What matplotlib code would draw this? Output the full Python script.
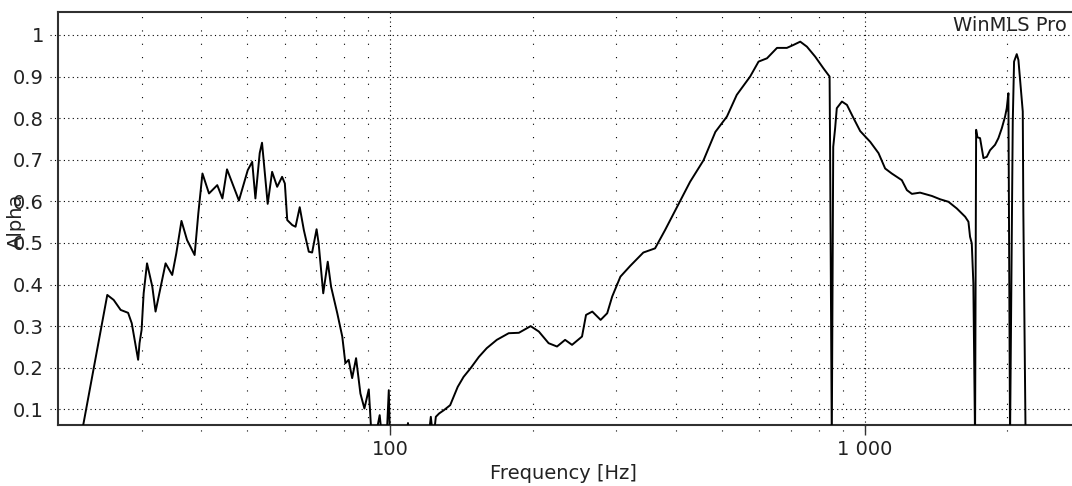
import matplotlib
matplotlib.use("Agg")
import matplotlib.pyplot as plt
from matplotlib.ticker import FixedLocator, FixedFormatter, NullFormatter
from matplotlib.transforms import blended_transform_factory

# absorption coefficient vs frequency
freq_hz = [
    22.4, 22.6, 25.4, 26.2, 27.1, 28.1, 28.6, 29.5, 29.7, 30.0,
    30.3, 30.8, 31.6, 32.1, 33.2, 33.7, 34.8, 35.5, 36.4, 37.4,
    38.8, 39.5, 40.3, 41.6, 43.3, 44.4, 45.4, 48.1, 50.2, 51.3,
    52.1, 53.2, 53.8, 54.5, 55.3, 56.5, 57.9, 59.3, 60.1, 60.8,
    62.3, 63.3, 64.6, 65.9, 67.5, 68.6, 70.1, 70.8, 72.4, 74.0,
    75.2, 77.5, 79.4, 80.6, 81.9, 83.3, 84.9, 86.7, 88.4, 90.3,
    91.3, 93.7, 95.2, 96.0, 98.6, 99.5, 100.0, 108.7, 109.2, 109.6,
    121, 122, 123, 124, 125, 127, 130, 134, 139, 143,
    148, 154, 160, 168, 178, 187, 198, 206, 216, 225,
    234, 242, 254, 259, 267, 278, 287, 294, 306, 321,
    342, 362, 380, 403, 429, 458, 485, 513, 538, 574,
    598, 623, 654, 686, 708, 732, 756, 787, 819, 844,
    846, 853, 859, 867, 874, 896, 918, 948, 979, 1028,
    1070, 1105, 1141, 1198, 1228, 1258, 1309, 1386, 1443, 1502,
    1564, 1629, 1655, 1668, 1682, 1695, 1709, 1718, 1729, 1751,
    1780, 1809, 1838, 1883, 1914, 1946, 1977, 1993, 2009, 2025,
    2052, 2065, 2092, 2109, 2133, 2154, 2160, 2184, 2736,
]
alpha = [
    0.040, 0.062, 0.375, 0.363, 0.339, 0.332, 0.307, 0.219, 0.259, 0.291,
    0.379, 0.451, 0.395, 0.335, 0.415, 0.451, 0.423, 0.475, 0.553, 0.507,
    0.471, 0.571, 0.667, 0.619, 0.639, 0.607, 0.677, 0.602, 0.675, 0.695,
    0.607, 0.716, 0.741, 0.671, 0.594, 0.671, 0.635, 0.659, 0.643, 0.555,
    0.543, 0.539, 0.586, 0.531, 0.479, 0.477, 0.533, 0.499, 0.379, 0.455,
    0.395, 0.331, 0.275, 0.211, 0.219, 0.175, 0.223, 0.138, 0.102, 0.148,
    0.055, 0.045, 0.086, 0.045, 0.045, 0.146, 0.045, 0.045, 0.067, 0.045,
    0.045, 0.082, 0.045, 0.045, 0.082, 0.090, 0.098, 0.110, 0.154, 0.178,
    0.199, 0.226, 0.247, 0.267, 0.283, 0.284, 0.300, 0.287, 0.259, 0.251,
    0.267, 0.255, 0.275, 0.327, 0.335, 0.315, 0.331, 0.371, 0.419, 0.445,
    0.477, 0.487, 0.531, 0.587, 0.647, 0.699, 0.767, 0.804, 0.856, 0.900,
    0.936, 0.944, 0.969, 0.969, 0.976, 0.984, 0.972, 0.948, 0.920, 0.900,
    0.731, 0.026, 0.731, 0.776, 0.824, 0.840, 0.832, 0.800, 0.769, 0.743,
    0.716, 0.679, 0.667, 0.651, 0.627, 0.618, 0.621, 0.613, 0.605, 0.599,
    0.583, 0.563, 0.551, 0.515, 0.499, 0.403, 0.026, 0.772, 0.754, 0.752,
    0.704, 0.707, 0.723, 0.736, 0.752, 0.776, 0.804, 0.824, 0.860, 0.026,
    0.792, 0.936, 0.954, 0.940, 0.872, 0.816, 0.575, 0.026, 0.026,
]

x_major = [100, 1000]
x_major_labels = ["100", "1 000"]
x_minor = [30, 40, 50, 60, 70, 80, 90, 200, 300, 400, 500, 600, 700, 800, 900, 2000]
y_ticks = [0.1, 0.2, 0.3, 0.4, 0.5, 0.6, 0.7, 0.8, 0.9, 1.0]
y_labels = ["0.1", "0.2", "0.3", "0.4", "0.5", "0.6", "0.7", "0.8", "0.9", "1"]

plt.rcParams["font.family"] = "DejaVu Sans"
txt = "#222222"

fig = plt.figure(figsize=(10.72, 4.86), dpi=100)
ax = fig.add_axes([58 / 1072, 61 / 486, 1 - 58 / 1072, 413 / 486])
ax.plot(freq_hz, alpha, color="black", lw=1.4, zorder=3)
ax.set_xscale("log")
ax.set_xlim(20, 2735)
ax.set_ylim(0.0623, 1.0553)

ax.xaxis.set_major_locator(FixedLocator(x_major))
ax.xaxis.set_major_formatter(FixedFormatter(x_major_labels))
ax.xaxis.set_minor_locator(FixedLocator(x_minor))
ax.xaxis.set_minor_formatter(NullFormatter())
ax.yaxis.set_major_locator(FixedLocator(y_ticks))
ax.yaxis.set_major_formatter(FixedFormatter(y_labels))
ax.tick_params(which="both", labelsize=14, labelcolor=txt)
ax.tick_params(axis="x", which="major", length=7, width=1.0, color="#333333", pad=4)
ax.tick_params(axis="x", which="minor", length=0)
ax.tick_params(axis="y", length=0, pad=10)

# dotted grid that runs a little past the frame, like tick marks
hx = blended_transform_factory(ax.transAxes, ax.transData)
vx = blended_transform_factory(ax.transData, ax.transAxes)
for v in y_ticks:
    ax.plot([-8 / 1014, 1], [v, v], transform=hx, color="black", lw=0.8,
            ls=(0, (1, 3)), clip_on=False, zorder=1)
for f in x_major:
    ax.plot([f, f], [-6 / 413, 1], transform=vx, color="black", lw=0.8,
            ls=(0, (1, 3)), clip_on=False, zorder=1)
for f in x_minor:
    ax.plot([f, f], [-6 / 413, 1], transform=vx, color="black", lw=0.8,
            ls=(0, (1, 11)), clip_on=False, zorder=1)

for side in ("left", "top", "bottom"):
    ax.spines[side].set_linewidth(1.5)
    ax.spines[side].set_color("#303030")
ax.spines["right"].set_visible(False)

ax.set_xlabel("Frequency [Hz]", fontsize=14, color=txt, va="center")
ax.xaxis.set_label_coords(0.498, -0.1186)
ax.set_ylabel("Alpha", fontsize=14, color=txt, va="center")
ax.yaxis.set_label_coords(-0.0414, 0.494)
ax.text(0.995, 0.9685, "WinMLS Pro", transform=ax.transAxes, ha="right", va="center",
        fontsize=14, color=txt)

fig.savefig("out.png")
